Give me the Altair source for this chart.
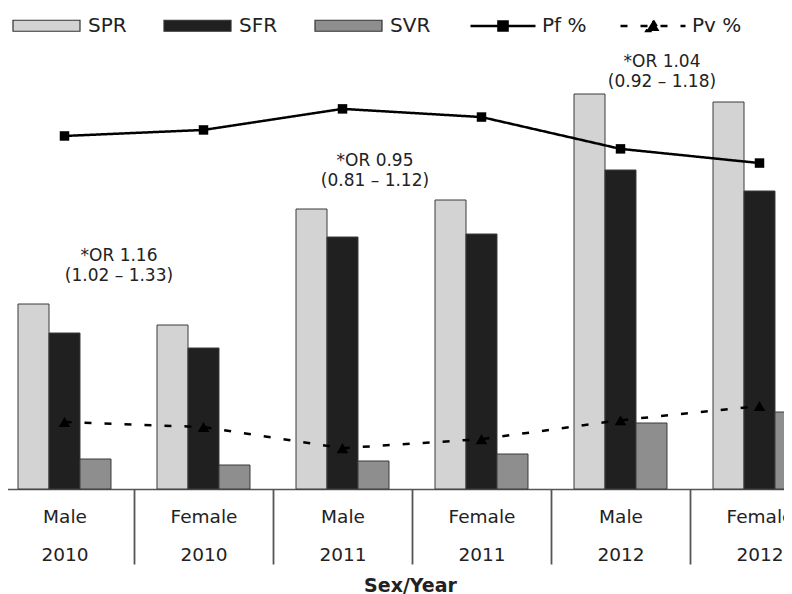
import altair as alt
import pandas as pd

# ---------------- data ----------------
groups = ["Male 2010", "Female 2010", "Male 2011", "Female 2011", "Male 2012", "Female 2012"]
bar_series = ["SPR", "SFR", "SVR"]
spr = [18.5, 16.4, 28.0, 28.9, 39.5, 38.7]
sfr = [15.6, 14.1, 25.2, 25.5, 31.9, 29.8]
svr = [3.0, 2.4, 2.8, 3.5, 6.6, 7.7]

line_series = ["Pf %", "Pv %"]
pf = [82.1, 83.5, 88.4, 86.5, 79.1, 75.8]
pv = [15.6, 14.4, 9.5, 11.6, 16.0, 19.3]

or_groups = ["Female 2010", "Female 2011", "Female 2012"]
or_labels = ["*OR 1.16", "*OR 0.95", "*OR 1.04"]
or_ci = ["(1.02 \u2013 1.33)", "(0.81 \u2013 1.12)", "(0.92 \u2013 1.18)"]
or_height = [23.3, 32.8, 42.7]

# ---------------- tables ----------------
bars = pd.DataFrame(
    [{"group": g, "series": s, "value": v}
     for s, vals in zip(bar_series, [spr, sfr, svr])
     for g, v in zip(groups, vals)]
)
lines = pd.DataFrame(
    [{"group": g, "measure": m, "pct": v}
     for m, vals in zip(line_series, [pf, pv])
     for g, v in zip(groups, vals)]
)

FONT = "DejaVu Sans"
BAR_DOMAIN = [0, 43]
PCT_DOMAIN = [0, 100]

x_scale = alt.Scale(domain=groups, range=[-13, 821], paddingInner=0, paddingOuter=0)

x_axis = alt.Axis(
    title="Sex/Year", titleFont=FONT, titleFontSize=19, titleFontWeight="bold",
    titleColor="#222222", titleX=402, titleY=102, titleBaseline="alphabetic",
    labelExpr="split(datum.label, ' ')", labelFont=FONT, labelFontSize=18.5,
    labelColor="#222222", labelLineHeight=38, labelBaseline="alphabetic",
    labelPadding=-42, labelAngle=0, labelOverlap=False, labelAlign="center",
    ticks=True, tickBand="extent", tickSize=75, tickWidth=1.8, tickColor="#555555",
    domainColor="#555555", domainWidth=1.5, grid=False,
)

bar_legend = alt.Legend(
    orient="none", legendX=4, legendY=-68, direction="horizontal", title=None,
    symbolType="M-1,-0.164H1V0.164H-1Z", symbolSize=4489,
    symbolStrokeColor="#333333", symbolStrokeWidth=1.2, symbolOpacity=1,
    labelFont=FONT, labelFontSize=20, labelColor="#222222", labelOffset=7,
    columnPadding=34, padding=0,
)

pf_shape = "M-1,0H1M-0.14,-0.14H0.14V0.14H-0.14Z"
pv_shape = "M-1,0H1M0,-0.17L0.2,0.15H-0.2Z"
line_legend = alt.Legend(
    orient="none", legendX=461, legendY=-67, direction="horizontal", title=None,
    symbolType={"expr": f"datum.value === 'Pf %' ? '{pf_shape}' : '{pv_shape}'"},
    symbolDash={"expr": "datum.value === 'Pv %' ? [6, 6] : [1, 0]"},
    symbolFillColor="black",
    symbolSize=4225, symbolStrokeWidth=2.5, symbolStrokeColor="black",
    labelFont=FONT, labelFontSize=20, labelColor="#222222", labelOffset=5,
    columnPadding=28, padding=0,
)

bar_layer = alt.Chart(bars).mark_bar(stroke="#3a3a3a", strokeWidth=1).encode(
    x=alt.X("group:N", scale=x_scale, axis=x_axis, sort=groups),
    xOffset=alt.XOffset("series:N", sort=bar_series,
                        scale=alt.Scale(domain=bar_series, paddingInner=0, paddingOuter=0.742)),
    y=alt.Y("value:Q", scale=alt.Scale(domain=BAR_DOMAIN), axis=None),
    fill=alt.Fill("series:N", scale=alt.Scale(domain=bar_series,
                                             range=["#d3d3d3", "#202020", "#8e8e8e"]),
                  legend=bar_legend),
)

line_layer = alt.Chart(lines).mark_line(strokeWidth=2.5).encode(
    x=alt.X("group:N", scale=x_scale, axis=x_axis, sort=groups),
    y=alt.Y("pct:Q", scale=alt.Scale(domain=PCT_DOMAIN), axis=None),
    stroke=alt.Stroke("measure:N", scale=alt.Scale(domain=line_series, range=["black", "black"]),
                      legend=line_legend),
    strokeDash=alt.StrokeDash("measure:N", scale=alt.Scale(domain=line_series,
                                                           range=[[1, 0], [7, 13]]), legend=None),
    detail="measure:N",
)

marker_shapes = ["square", "triangle-up"]
marker_sizes = [90, 135]
point_layers = []
for m, shp, sz in zip(line_series, marker_shapes, marker_sizes):
    point_layers.append(
        alt.Chart(lines).transform_filter(alt.datum.measure == m).mark_point(
            filled=True, opacity=1, color="black", shape=shp, size=sz,
        ).encode(
            x=alt.X("group:N", scale=x_scale, axis=x_axis, sort=groups),
            y=alt.Y("pct:Q", scale=alt.Scale(domain=PCT_DOMAIN), axis=None),
        )
    )

ann = pd.DataFrame({"group": or_groups,
                    "text": [a + "\n" + b for a, b in zip(or_labels, or_ci)],
                    "h": or_height})
ann_dx = [-15, -37, -28]
ann_layers = []
for i in range(len(or_groups)):
    ann_layers.append(
        alt.Chart(ann.iloc[[i]]).mark_text(
            font=FONT, fontSize=17, lineBreak="\n", lineHeight=19.5, color="#222222",
            align="center", baseline="middle", dx=ann_dx[i],
        ).encode(
            x=alt.X("group:N", scale=x_scale, axis=x_axis, sort=groups, bandPosition=0),
            y=alt.Y("h:Q", scale=alt.Scale(domain=BAR_DOMAIN), axis=None),
            text="text:N",
        )
    )

chart = alt.layer(bar_layer, line_layer, *point_layers, *ann_layers).resolve_scale(
    y="independent"
).properties(
    width=776, height=430,
    autosize=alt.AutoSizeParams(type="none"),
    padding={"left": 0, "top": 51, "right": 0, "bottom": 105},
).configure_view(strokeWidth=0)

chart.save("out.html", embed_options={"renderer": "svg", "actions": False})
